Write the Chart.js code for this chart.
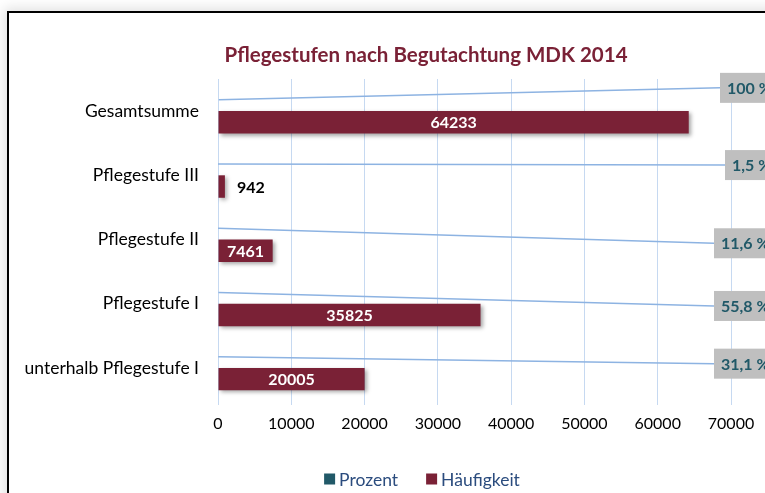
<html>
  <head>
    <script src="https://cdn.jsdelivr.net/npm/chart.js@4.4.0/dist/chart.umd.min.js"></script>
    <style>
      body { margin: 0; background: #fff; overflow: hidden; }
      #frame { position: absolute; left: 7px; top: 11px; width: 820px; height: 540px; border: 2px solid #000; box-shadow: -3px -3px 12px rgba(0,0,0,0.12); }
      #wrap { position: absolute; left: 0; top: 0; width: 765px; height: 493px; }
    </style>
  </head>
  <body>
    <div id="frame"></div>
    <div id="wrap"><canvas id="myChart" width="765" height="493"></canvas></div>

    <script>
      var categories = ['Gesamtsumme', 'Pflegestufe III', 'Pflegestufe II', 'Pflegestufe I', 'unterhalb Pflegestufe I'];
      var haeufigkeit = [64233, 942, 7461, 35825, 20005];
      var prozent = [100, 1.5, 11.6, 55.8, 31.1];
      var xTicks = [0, 10000, 20000, 30000, 40000, 50000, 60000, 70000];

      var title = 'Pflegestufen nach Begutachtung MDK 2014';
      var wine = '#7a2136';
      var teal = '#215968';
      var fontName = 'Lato';

      // where the percent callouts were dragged to (relative to plot right / bar centre)
      var boxDx = [-11, -6, -17, -17, -17];
      var boxDy = [-12, 1, 15, 13.5, 7];

      var shadow = {
        id: 'shadow',
        beforeDatasetDraw: function (chart, args) {
          // the percent bars are far too short to see, only their callouts show
          if (args.index === 0) return false;
          var ctx = chart.ctx;
          ctx.save();
          ctx.shadowColor = 'rgba(0,0,0,0.35)';
          ctx.shadowBlur = 4;
          ctx.shadowOffsetX = 2;
          ctx.shadowOffsetY = 2;
        },
        afterDatasetDraw: function (chart, args) {
          if (args.index === 1) chart.ctx.restore();
        }
      };

      var callouts = {
        id: 'callouts',
        afterDatasetsDraw: function (chart) {
          var ctx = chart.ctx;
          var area = chart.chartArea;
          ctx.save();
          ctx.textBaseline = 'middle';

          // values on the bars
          ctx.font = 'bold 16px ' + fontName;
          chart.getDatasetMeta(1).data.forEach(function (bar, i) {
            var txt = String(haeufigkeit[i]);
            var w = ctx.measureText(txt).width;
            if (w + 10 < bar.x - bar.base) {
              ctx.fillStyle = '#fff';
              ctx.textAlign = 'center';
              ctx.fillText(txt, (bar.x + bar.base) / 2, bar.y + 1);
            } else {
              ctx.fillStyle = '#000';
              ctx.textAlign = 'left';
              ctx.fillText(txt, bar.x + 12, bar.y + 1);
            }
          });

          // leader lines and grey boxes for the percentages
          chart.getDatasetMeta(0).data.forEach(function (bar, i) {
            var bx = area.right + boxDx[i];
            var cy = bar.y + boxDy[i];
            ctx.strokeStyle = '#8db3e2';
            ctx.lineWidth = 1.5;
            ctx.beginPath();
            ctx.moveTo(bar.x, bar.y);
            ctx.lineTo(bx, cy);
            ctx.stroke();

            ctx.fillStyle = '#bfbfbf';
            ctx.fillRect(bx, cy - 15, 80, 30);
            ctx.fillStyle = teal;
            ctx.textAlign = 'left';
            ctx.fillText(String(prozent[i]).replace('.', ',') + ' %', bx + 7, cy + 1);
          });
          ctx.restore();
        },
        afterDraw: function (chart) {
          var ctx = chart.ctx;
          ctx.save();
          ctx.textBaseline = 'middle';

          ctx.font = 'bold 20.5px ' + fontName;
          ctx.fillStyle = wine;
          ctx.textAlign = 'center';
          ctx.fillText(title, 426, 55);

          // legend
          ctx.font = '17.5px ' + fontName;
          var items = chart.data.datasets.map(function (ds) {
            return { text: ds.label, color: ds.backgroundColor, w: ctx.measureText(ds.label).width };
          });
          var total = 0;
          items.forEach(function (it, i) { total += 11 + 4 + it.w + (i ? 28 : 0); });
          var x = 422 - total / 2;
          var y = 479;
          ctx.textAlign = 'left';
          items.forEach(function (it) {
            ctx.fillStyle = it.color;
            ctx.fillRect(x, y - 5.5, 11, 11);
            ctx.fillStyle = '#2b4c7e';
            ctx.fillText(it.text, x + 15, y + 1);
            x += 15 + it.w + 28;
          });
          ctx.restore();
        }
      };

      var ctx = document.getElementById('myChart').getContext('2d');
      var chart = new Chart(ctx, {
        type: 'bar',
        data: {
          labels: categories,
          datasets: [
            {
              label: 'Prozent',
              backgroundColor: teal,
              data: prozent
            },
            {
              label: 'Häufigkeit',
              backgroundColor: wine,
              data: haeufigkeit
            }
          ]
        },
        options: {
          indexAxis: 'y',
          responsive: false,
          animation: false,
          categoryPercentage: 0.7,
          barPercentage: 1,
          layout: { padding: { top: 79, right: 34, left: 0, bottom: 0 } },
          plugins: {
            legend: { display: false },
            title: { display: false },
            tooltip: { enabled: false }
          },
          scales: {
            x: {
              min: 0,
              max: 70000,
              afterBuildTicks: function (scale) {
                scale.ticks = xTicks.map(function (v) { return { value: v }; });
              },
              afterFit: function (scale) { scale.height = 93; },
              border: { display: false },
              grid: { color: '#c6d9f1', lineWidth: 1, tickLength: 5 },
              ticks: {
                color: '#000',
                padding: 9,
                maxRotation: 0,
                font: { family: fontName, size: 16 },
                callback: function (v) { return String(v); }
              }
            },
            y: {
              afterFit: function (scale) { scale.width = 218; },
              border: { display: false },
              grid: { display: false, drawTicks: false },
              ticks: {
                color: '#000',
                padding: 19,
                font: { family: fontName, size: 17.5 }
              }
            }
          }
        },
        plugins: [shadow, callouts]
      });
    </script>
  </body>
</html>
